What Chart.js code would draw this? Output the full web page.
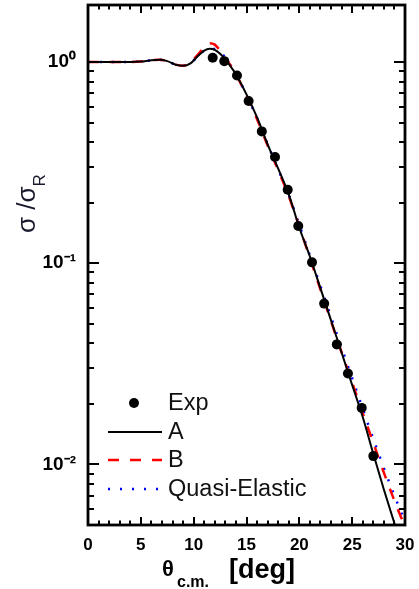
<!DOCTYPE html>
<html><head><meta charset="utf-8">
<script src="https://cdn.jsdelivr.net/npm/chart.js@4/dist/chart.umd.min.js"></script>
<style>html,body{margin:0;padding:0;background:#fff;overflow:hidden}#wrap{width:419px;height:589px;position:relative}</style>
</head><body><div id="wrap"><canvas id="c" width="419" height="589"></canvas></div>
<script>
// Experimental points
const expTheta = [11.8, 12.9, 14.1, 15.2, 16.45, 17.7, 18.9, 19.9, 21.2, 22.35, 23.55, 24.6, 25.9, 27.0];
const expRatio = [1.05, 1.01, 0.857, 0.64, 0.452, 0.337, 0.232, 0.153, 0.101, 0.063, 0.0395, 0.0283, 0.0191, 0.0110];
// Calculated curves
const curveTheta = [0, 1, 2, 3, 4, 5, 6, 6.8, 7.5, 8.3, 9, 9.7, 10.4, 11, 11.5, 12, 12.5, 13, 13.5, 14, 15, 16, 17, 18, 19, 20, 21, 22, 23, 24, 25, 26, 27, 28, 29, 30];
const curveA  = [1.0, 1.0, 1.0, 1.0, 1.0, 1.005, 1.02, 1.025, 1.01, 0.97, 0.958, 0.985, 1.07, 1.14, 1.165, 1.15, 1.10, 1.03, 0.95, 0.87, 0.69, 0.53, 0.39, 0.295, 0.22, 0.150, 0.108, 0.075, 0.052, 0.036, 0.0248, 0.0172, 0.0113, 0.0075, 0.0051, 0.0035];
const curveB  = [1.0, 1.0, 1.0, 1.0, 1.0, 1.005, 1.02, 1.025, 1.01, 0.97, 0.958, 0.99, 1.09, 1.18, 1.24, 1.22, 1.14, 1.05, 0.96, 0.87, 0.68, 0.52, 0.385, 0.29, 0.215, 0.152, 0.106, 0.074, 0.0515, 0.036, 0.0255, 0.018, 0.0128, 0.0091, 0.0066, 0.0049];
const curveQE = [1.0, 1.0, 1.0, 1.0, 1.0, 1.005, 1.02, 1.025, 1.01, 0.97, 0.958, 0.985, 1.07, 1.14, 1.16, 1.16, 1.12, 1.05, 0.96, 0.875, 0.685, 0.525, 0.39, 0.292, 0.218, 0.155, 0.109, 0.077, 0.054, 0.038, 0.0268, 0.0189, 0.0134, 0.0096, 0.0070, 0.0052];
// Axes
const xTickValues = [0, 5, 10, 15, 20, 25, 30];
const yTickValues = [0.01, 0.1, 1];
const yTickLabels = ['10\u207B\u00B2', '10\u207B\u00B9', '10\u2070'];
const seriesLabels = ['Exp', 'A', 'B', 'Quasi-Elastic'];

const FONT = "'Liberation Sans', Arial, sans-serif";
const toPts = (xs, ys) => xs.map((x, i) => ({x: x, y: ys[i]}));

const decor = {
  id: 'decor',
  afterDraw(chart) {
    const ctx = chart.ctx, a = chart.chartArea;
    const xs = chart.scales.x, ys = chart.scales.y;
    ctx.save();
    ctx.strokeStyle = '#000';
    // ticks (inside, mirrored)
    ctx.lineWidth = 2;
    ctx.beginPath();
    for (let v = xs.min; v <= xs.max; v++) {
      const px = Math.round(xs.getPixelForValue(v));
      const len = v % 5 === 0 ? 8 : 4.5;
      ctx.moveTo(px, a.bottom); ctx.lineTo(px, a.bottom - len);
      ctx.moveTo(px, a.top); ctx.lineTo(px, a.top + len);
    }
    for (let d = 0.001; d <= 1.0001; d *= 10) {
      for (let m = 1; m <= 9; m++) {
        const v = m * d;
        if (v < ys.min * 0.999 || v > ys.max) continue;
        const py = Math.round(ys.getPixelForValue(v));
        const len = m === 1 ? 11 : 6;
        ctx.moveTo(a.left, py); ctx.lineTo(a.left + len, py);
        ctx.moveTo(a.right, py); ctx.lineTo(a.right - len, py);
      }
    }
    ctx.stroke();
    // frame
    ctx.lineWidth = 2.8;
    ctx.strokeRect(a.left, a.top, a.right - a.left, a.bottom - a.top);

    // x title
    ctx.fillStyle = '#000';
    ctx.textAlign = 'left';
    ctx.textBaseline = 'alphabetic';
    ctx.font = "bold 22px " + FONT;
    ctx.fillText('\u03B8', 162, 576);
    ctx.font = "bold 16px " + FONT;
    ctx.fillText('c.m.', 177, 587);
    ctx.font = "bold 27px " + FONT;
    ctx.fillText('[deg]', 229, 578);

    // y title (rotated) sigma / sigma_R
    ctx.save();
    ctx.translate(35, 233);
    ctx.rotate(-Math.PI / 2);
    ctx.font = "26px " + FONT;
    ctx.fillStyle = '#1a1a2e';
    ctx.fillText('\u03C3 /\u03C3', 0, 0);
    const w = ctx.measureText('\u03C3 /\u03C3').width;
    ctx.font = "17px " + FONT;
    ctx.fillText('R', w, 10);
    ctx.restore();

    // legend
    const ds = chart.data.datasets;
    const rows = [403, 432, 460, 489];
    ctx.font = "23.5px " + FONT;
    ctx.textBaseline = 'middle';
    ds.forEach((d, i) => {
      const y = rows[i];
      if (i === 0) {
        ctx.beginPath();
        ctx.fillStyle = '#000';
        ctx.arc(134, y, 5, 0, Math.PI * 2);
        ctx.fill();
      } else {
        ctx.beginPath();
        ctx.strokeStyle = d.borderColor;
        ctx.lineWidth = d.borderWidth;
        ctx.setLineDash(d.borderDash || []);
        ctx.moveTo(108, y); ctx.lineTo(162, y);
        ctx.stroke();
        ctx.setLineDash([]);
      }
      ctx.fillStyle = '#111';
      ctx.fillText(d.label, 168, y + 1);
    });
    ctx.restore();
  }
};

new Chart(document.getElementById('c'), {
  type: 'line',
  data: {
    datasets: [
      { label: seriesLabels[0], data: toPts(expTheta, expRatio), showLine: false, pointRadius: 5, pointBackgroundColor: '#000', pointBorderColor: '#000', pointBorderWidth: 0, order: 0 },
      { label: seriesLabels[1], data: toPts(curveTheta, curveA), borderColor: '#000', borderWidth: 2, pointRadius: 0, cubicInterpolationMode: 'monotone', fill: false, order: 1 },
      { label: seriesLabels[2], data: toPts(curveTheta, curveB), borderColor: '#ff0000', borderWidth: 2.5, borderDash: [11, 11], pointRadius: 0, cubicInterpolationMode: 'monotone', fill: false, order: 2 },
      { label: seriesLabels[3], data: toPts(curveTheta, curveQE), borderColor: '#0000ff', borderWidth: 2.5, borderDash: [2, 10], pointRadius: 0, cubicInterpolationMode: 'monotone', fill: false, order: 3 }
    ]
  },
  options: {
    responsive: false,
    devicePixelRatio: 1,
    animation: false,
    layout: { padding: { top: 4, right: 14, left: 0, bottom: 0 } },
    plugins: { legend: { display: false }, tooltip: { enabled: false } },
    scales: {
      x: {
        type: 'linear', min: 0, max: 30,
        afterBuildTicks: s => { s.ticks = xTickValues.map(v => ({ value: v })); },
        ticks: { color: '#000', font: { family: FONT, size: 17, weight: 'bold' }, padding: 10, maxRotation: 0 },
        grid: { display: false, drawTicks: false },
        border: { display: false },
        afterFit: s => { s.height = 64; s.paddingLeft = 0; s.paddingRight = 0; }
      },
      y: {
        type: 'logarithmic', min: 0.005, max: 1.92,
        afterBuildTicks: s => { s.ticks = yTickValues.map(v => ({ value: v })); },
        ticks: {
          color: '#000', font: { family: FONT, size: 19, weight: 'bold' }, padding: 12,
          callback: (v) => { const i = yTickValues.findIndex(t => Math.abs(Math.log10(t) - Math.log10(v)) < 0.01); return i >= 0 ? yTickLabels[i] : ''; }
        },
        grid: { display: false, drawTicks: false },
        border: { display: false },
        afterFit: s => { s.width = 88; s.paddingTop = 0; s.paddingBottom = 0; }
      }
    }
  },
  plugins: [decor]
});
</script></body></html>
